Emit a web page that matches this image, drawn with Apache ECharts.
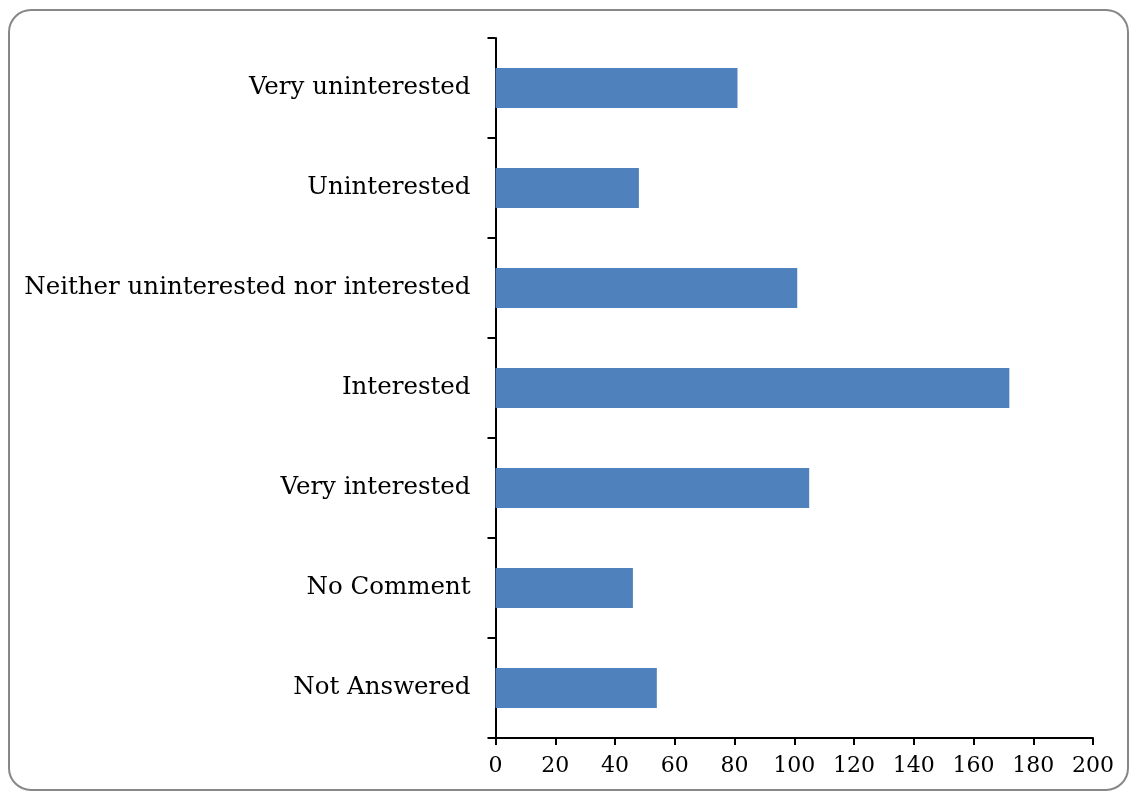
<!DOCTYPE html>
<html>
<head>
<meta charset="utf-8">
<script src="https://cdn.jsdelivr.net/npm/echarts@6/dist/echarts.min.js"></script>
<style>
html,body{margin:0;padding:0;background:#fff;}
#c{width:1130px;height:791px;}
</style>
</head>
<body>
<div id="c"></div>
<script>
const categories = ["Not Answered","No Comment","Very interested","Interested","Neither uninterested nor interested","Uninterested","Very uninterested"];
const values = [54, 46, 105, 172, 101, 48, 81];
const xMin = 0, xMax = 200, xInterval = 20;

const FONT = "DejaVu Serif";
const chart = echarts.init(document.getElementById('c'), null, {renderer:'canvas'});
chart.setOption({
  animation:false,
  backgroundColor:'#fff',
  graphic:[{
    type:'rect',
    shape:{x:9, y:10, width:1119, height:780, r:22},
    style:{fill:'none', stroke:'#878787', lineWidth:2},
    z:-1
  }],
  grid:{left:495.5, right:37, top:38, bottom:53, containLabel:false},
  xAxis:{
    type:'value', min:xMin, max:xMax, interval:xInterval,
    axisLine:{show:true, lineStyle:{color:'#000', width:2}},
    axisTick:{show:true, length:7, lineStyle:{color:'#000', width:2}},
    splitLine:{show:false},
    axisLabel:{color:'#000', fontFamily:FONT, fontSize:22, margin:17}
  },
  yAxis:{
    type:'category', data:categories,
    axisLine:{show:true, lineStyle:{color:'#000', width:2}},
    axisTick:{show:true, length:8, lineStyle:{color:'#000', width:2}},
    axisLabel:{color:'#000', fontFamily:FONT, fontSize:24.5, margin:25, padding:[8,0,0,0]}
  },
  series:[{
    type:'bar', data:values, barWidth:'40%',
    itemStyle:{color:'#4F81BD'}
  }]
});
</script>
</body>
</html>
